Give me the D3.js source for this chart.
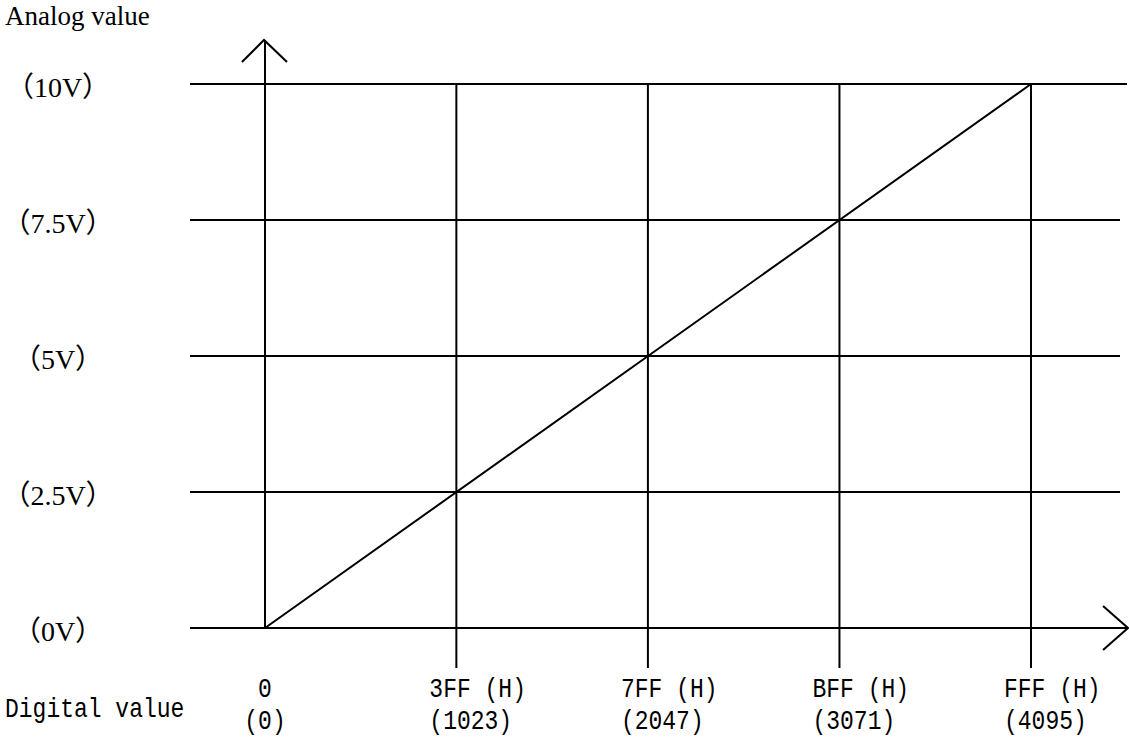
<!DOCTYPE html>
<html>
<head>
<meta charset="utf-8">
<script src="https://cdn.jsdelivr.net/npm/d3@7"></script>
<style>
  body { margin: 0; background: #fff; }
  svg { display: block; }
  .serif { font-family: "Liberation Serif", "Noto Sans CJK SC", serif; }
  .mono { font-family: "Liberation Mono", "DejaVu Sans Mono", monospace; }
</style>
</head>
<body>
<div id="chart"></div>
<script>
// axis values
var digitalTicks = [0, 1023, 2047, 3071, 4095];
var hexLabels = ["0", "3FF (H)", "7FF (H)", "BFF (H)", "FFF (H)"];
var decLabels = ["(0)", "(1023)", "(2047)", "(3071)", "(4095)"];
var voltTicks = [0, 2.5, 5, 7.5, 10];
var voltLabels = ["（0V）", "（2.5V）", "（5V）", "（7.5V）", "（10V）"];
// conversion line: digital -> analog
var lineDigital = [0, 4095];
var lineVolt = [0, 10];

var width = 1129, height = 740;

var svg = d3.select("#chart").append("svg")
    .attr("width", width)
    .attr("height", height);

var x = d3.scaleLinear().domain([0, 4095]).range([265, 1031]);
var y = d3.scaleLinear().domain([0, 10]).range([628, 84]);

var ink = "#000";

// horizontal grid lines
svg.append("g").selectAll("line")
    .data(voltTicks.filter(function (v) { return v > 0; }))
    .enter().append("line")
    .attr("x1", 190)
    .attr("x2", function (v) { return v === 10 ? 1127 : 1120; })
    .attr("y1", function (v) { return y(v); })
    .attr("y2", function (v) { return y(v); })
    .attr("stroke", ink)
    .attr("stroke-width", 2);

// vertical grid lines
svg.append("g").selectAll("line")
    .data(digitalTicks.filter(function (d) { return d > 0; }))
    .enter().append("line")
    .attr("x1", function (d) { return x(d); })
    .attr("x2", function (d) { return x(d); })
    .attr("y1", y(10))
    .attr("y2", 668)
    .attr("stroke", ink)
    .attr("stroke-width", 2);

// x axis with arrow
svg.append("line")
    .attr("x1", 190).attr("x2", 1128)
    .attr("y1", y(0)).attr("y2", y(0))
    .attr("stroke", ink).attr("stroke-width", 2);
svg.append("path")
    .attr("d", "M1103," + (y(0) - 22) + "L1128," + y(0) + "L1103," + (y(0) + 22))
    .attr("fill", "none").attr("stroke", ink).attr("stroke-width", 2);

// y axis with arrow
svg.append("line")
    .attr("x1", x(0)).attr("x2", x(0))
    .attr("y1", 40).attr("y2", y(0))
    .attr("stroke", ink).attr("stroke-width", 2);
svg.append("path")
    .attr("d", "M" + (x(0) - 23) + ",62L" + (x(0) - 1) + ",40L" + (x(0) + 22) + ",62")
    .attr("fill", "none").attr("stroke", ink).attr("stroke-width", 2);

// conversion line
var pts = lineDigital.map(function (d, i) { return [d, lineVolt[i]]; });
svg.append("path")
    .datum(pts)
    .attr("d", d3.line()
        .x(function (d) { return x(d[0]); })
        .y(function (d) { return y(d[1]); }))
    .attr("fill", "none")
    .attr("stroke", ink)
    .attr("stroke-width", 2);

// y labels
svg.append("text")
    .attr("class", "serif")
    .attr("x", 5).attr("y", 25)
    .attr("font-size", 27)
    .text("Analog value");

svg.append("g").selectAll("text")
    .data(voltTicks)
    .enter().append("text")
    .attr("class", "serif")
    .attr("x", 58)
    .attr("y", function (v) { return y(v) + 13; })
    .attr("text-anchor", "middle")
    .attr("font-size", 28)
    .text(function (v, i) { return voltLabels[i]; });

// x labels (tall, narrow monospace look)
function monoText(sel, tx, ty, anchor, txt) {
    sel.append("text")
        .attr("class", "mono")
        .attr("transform", "translate(" + tx + "," + ty + ") scale(1,1.2)")
        .attr("text-anchor", anchor)
        .attr("font-size", 23)
        .text(txt);
}

monoText(svg, 5, 717, "start", "Digital value");

digitalTicks.forEach(function (d, i) {
    var px = i === 0 ? x(d) : x(d) - 27;
    var anchor = i === 0 ? "middle" : "start";
    monoText(svg, px, 697, anchor, hexLabels[i]);
    monoText(svg, px, 729, anchor, decLabels[i]);
});
</script>
</body>
</html>
